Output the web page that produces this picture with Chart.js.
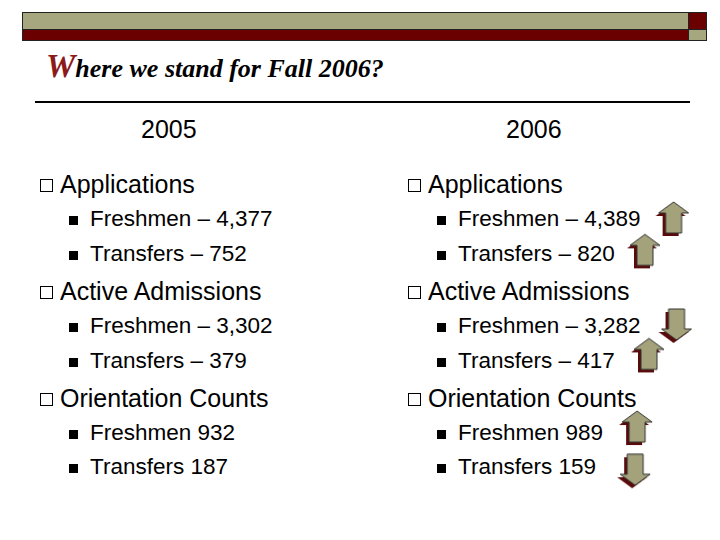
<!DOCTYPE html>
<html><head><meta charset="utf-8">
<script src="https://cdn.jsdelivr.net/npm/chart.js@4/dist/chart.umd.min.js"></script>
<style>
body{margin:0;background:#fff;width:720px;height:540px;overflow:hidden;font-family:Arial,"Liberation Sans",sans-serif}
#wrap{position:relative;width:720px;height:540px}
#c{position:absolute;left:0;top:0}
.t{position:absolute;white-space:nowrap;color:#000}
.hb{position:absolute;width:13px;height:13px;border:1.5px solid #000;box-sizing:border-box}
.sb{position:absolute;width:9px;height:9px;background:#000}
.r{position:absolute;box-sizing:border-box;border:1px solid #222}
</style></head><body><div id="wrap">
<div class="r" style="left:22px;top:12px;width:667px;height:18px;background:#a6a67f"></div>
<div class="r" style="left:22px;top:29px;width:667px;height:12px;background:#6b0000"></div>
<div class="r" style="left:688px;top:12px;width:19px;height:18px;background:#6b0000"></div>
<div class="r" style="left:688px;top:29px;width:19px;height:12px;background:#a6a67f"></div>
<div class="t" style="left:46px;top:48px;font:italic bold 26px 'Liberation Serif',serif"><span style="color:#8b1a1a;font-size:33px">W</span>here we stand for Fall 2006?</div>
<div style="position:absolute;left:35px;top:101px;width:655px;height:2px;background:#000"></div>
<div id="txt"></div>
<canvas id="c" width="720" height="540"></canvas>
</div>
<script>
const years = ['2005', '2006'];
const headings = ['Applications', 'Active Admissions', 'Orientation Counts'];
const items2005 = ['Freshmen – 4,377', 'Transfers – 752', 'Freshmen – 3,302', 'Transfers – 379', 'Freshmen 932', 'Transfers  187'];
const items2006 = ['Freshmen – 4,389', 'Transfers – 820', 'Freshmen – 3,282', 'Transfers – 417', 'Freshmen 989', 'Transfers  159'];
const headRows = [185, 292, 399];
const itemRows = [220, 255, 327, 362, 434, 468];
const arrowX = [677, 648, 680, 652, 640, 638];
const arrowY = [218, 251, 327, 357, 431, 475];
const arrowUp = [true, true, false, true, true, false];

const txt = document.getElementById('txt');
const colX = [40, 408];
const centers = [170, 535];
let html = '';
years.forEach((y, i) => {
  html += `<div class="t" style="left:${centers[i]-29}px;top:115px;font-size:25px">${y}</div>`;
  const items = i ? items2006 : items2005;
  headings.forEach((h, j) => {
    html += `<div class="hb" style="left:${colX[i]}px;top:${headRows[j]-6}px"></div>`;
    html += `<div class="t" style="left:${colX[i]+20}px;top:${headRows[j]-15}px;font-size:25px">${h}</div>`;
    for (let k = 0; k < 2; k++) {
      const r = itemRows[j*2+k];
      html += `<div class="sb" style="left:${colX[i]+29}px;top:${r-4}px"></div>`;
      html += `<div class="t" style="left:${colX[i]+50}px;top:${r-14}px;font-size:22.5px">${items[j*2+k]}</div>`;
    }
  });
});
txt.innerHTML = html;

function arrowImg(up) {
  const c = document.createElement('canvas');
  c.width = 36; c.height = 36;
  const g = c.getContext('2d');
  const path = (ox, oy) => {
    g.beginPath();
    if (up) {
      g.moveTo(ox+15, oy); g.lineTo(ox+30, oy+11); g.lineTo(ox+23, oy+11);
      g.lineTo(ox+23, oy+31); g.lineTo(ox+7, oy+31); g.lineTo(ox+7, oy+11); g.lineTo(ox, oy+11);
    } else {
      g.moveTo(ox+7, oy); g.lineTo(ox+23, oy); g.lineTo(ox+23, oy+20); g.lineTo(ox+30, oy+20);
      g.lineTo(ox+15, oy+31); g.lineTo(ox, oy+20); g.lineTo(ox+7, oy+20);
    }
    g.closePath();
  };
  path(1, 4); g.fillStyle = '#5a0a0a'; g.fill();
  path(4, 1); g.fillStyle = '#a3a27a'; g.fill(); g.strokeStyle = '#333'; g.lineWidth = 1; g.stroke();
  return c;
}

new Chart(document.getElementById('c'), {
  type: 'scatter',
  data: {
    datasets: [{
      data: arrowX.map((x, i) => ({ x, y: arrowY[i] })),
      pointStyle: arrowUp.map(arrowImg),
    }]
  },
  options: {
    responsive: false, animation: false,
    layout: { padding: 0 },
    plugins: { legend: { display: false }, tooltip: { enabled: false } },
    scales: {
      x: { type: 'linear', min: 0, max: 720, display: false },
      y: { type: 'linear', min: 0, max: 540, reverse: true, display: false }
    }
  }
});
</script></body></html>
